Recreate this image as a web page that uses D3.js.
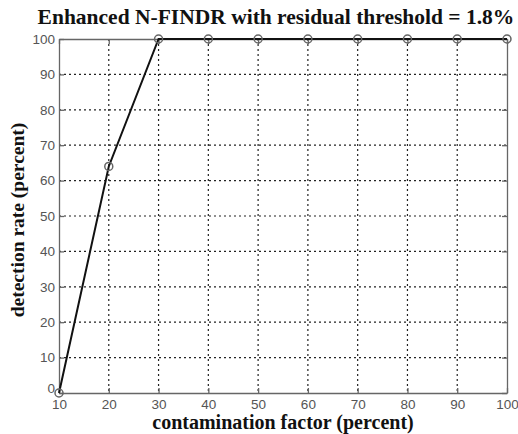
<!DOCTYPE html>
<html>
<head>
<meta charset="utf-8">
<script src="https://cdn.jsdelivr.net/npm/d3@7"></script>
<style>
  body { margin: 0; background: #fff; }
  .tick text { font-family: Arial, "Liberation Sans", sans-serif; font-size: 13.5px; fill: #555; }
  .lbl { font-family: "Times New Roman", "Liberation Serif", serif; font-weight: bold; fill: #111; }
</style>
</head>
<body>
<div id="chart"></div>
<script>
// данные
const contamination = [10, 20, 30, 40, 50, 60, 70, 80, 90, 100];
const detection = [0, 64, 100, 100, 100, 100, 100, 100, 100, 100];
const xTicks = [10, 20, 30, 40, 50, 60, 70, 80, 90, 100];
const yTicks = [0, 10, 20, 30, 40, 50, 60, 70, 80, 90, 100];

const W = 518, H = 434;
const margin = { top: 39, right: 11, bottom: 41, left: 59 },
      width = W - margin.left - margin.right,
      height = H - margin.top - margin.bottom;

const svg = d3.select("#chart").append("svg")
  .attr("width", W).attr("height", H);

const g = svg.append("g")
  .attr("transform", `translate(${margin.left},${margin.top})`);

const x = d3.scaleLinear().domain([10, 100]).range([0, width]);
const y = d3.scaleLinear().domain([0, 100]).range([height, 0]);

// сетка
g.append("g").selectAll("line").data(xTicks.slice(1, -1)).join("line")
  .attr("x1", d => x(d)).attr("x2", d => x(d))
  .attr("y1", 0).attr("y2", height)
  .attr("stroke", "#222").attr("stroke-width", 1.2).attr("stroke-dasharray", "2,3");
g.append("g").selectAll("line").data(yTicks.slice(1, -1)).join("line")
  .attr("y1", d => y(d)).attr("y2", d => y(d))
  .attr("x1", 0).attr("x2", width)
  .attr("stroke", "#222").attr("stroke-width", 1.2).attr("stroke-dasharray", "2,3");

// оси
g.append("g").attr("transform", `translate(0,${height})`)
  .call(d3.axisBottom(x).tickValues(xTicks).tickSizeInner(-5).tickSizeOuter(0).tickPadding(6));
const yAxis = g.append("g")
  .call(d3.axisLeft(y).tickValues(yTicks).tickSizeInner(-5).tickSizeOuter(0).tickPadding(4));
// нулевая подпись чуть выше, как в оригинале
yAxis.selectAll(".tick text").filter(d => d === 0).attr("dy", "-0.05em");
g.append("g")
  .call(d3.axisTop(x).tickValues(xTicks).tickSizeInner(-5).tickSizeOuter(0).tickFormat(""));
g.append("g").attr("transform", `translate(${width},0)`)
  .call(d3.axisRight(y).tickValues(yTicks).tickSizeInner(-5).tickSizeOuter(0).tickFormat(""));
g.selectAll(".domain, .tick line").attr("stroke", "#666").attr("stroke-width", 1.3);

// линия
const pts = contamination.map((c, i) => ({ c, d: detection[i] }));
g.append("path").datum(pts)
  .attr("fill", "none").attr("stroke", "#111").attr("stroke-width", 2)
  .attr("d", d3.line().x(d => x(d.c)).y(d => y(d.d)));

g.append("g").selectAll("circle").data(pts).join("circle")
  .attr("cx", d => x(d.c)).attr("cy", d => y(d.d)).attr("r", 4)
  .attr("fill", "none").attr("stroke", "#666").attr("stroke-width", 1.5);

// подписи
svg.append("text").attr("class", "lbl")
  .attr("x", 276).attr("y", 24).attr("text-anchor", "middle")
  .style("font-size", "21.5px")
  .text("Enhanced N-FINDR with residual threshold = 1.8%");

svg.append("text").attr("class", "lbl")
  .attr("x", 283).attr("y", 429).attr("text-anchor", "middle")
  .style("font-size", "20px")
  .text("contamination factor (percent)");

svg.append("text").attr("class", "lbl")
  .attr("transform", `translate(24,220) rotate(-90)`)
  .attr("text-anchor", "middle")
  .style("font-size", "19.5px")
  .text("detection rate (percent)");
</script>
</body>
</html>
